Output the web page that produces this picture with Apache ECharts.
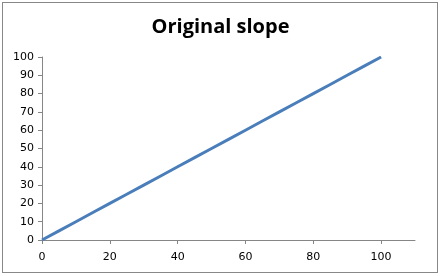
<!DOCTYPE html>
<html><head><meta charset="utf-8">
<script src="https://cdn.jsdelivr.net/npm/echarts@6/dist/echarts.min.js"></script>
<style>html,body{margin:0;padding:0;background:#fff}#c{width:441px;height:276px}
#frame{position:absolute;left:2px;top:2px;width:434px;height:269px;border:1px solid #888;pointer-events:none}</style>
</head><body><div id="c"></div><div id="frame"></div>
<script>
const titleText = "Original slope";
const xValues = [0, 5, 10, 15, 20, 25, 30, 35, 40, 45, 50, 55, 60, 65, 70, 75, 80, 85, 90, 95, 100];
const yValues = [0, 5, 10, 15, 20, 25, 30, 35, 40, 45, 50, 55, 60, 65, 70, 75, 80, 85, 90, 95, 100];
const xTicks = [0, 20, 40, 60, 80, 100];
const yTicks = [0, 10, 20, 30, 40, 50, 60, 70, 80, 90, 100];

const chart = echarts.init(document.getElementById('c'), null, {renderer: 'canvas'});
const axisColor = '#868686';
const lab = {color: '#000', fontFamily: 'DejaVu Sans', fontSize: 11};
chart.setOption({
  animation: false,
  title: {text: titleText, left: 'center', top: 12,
    textStyle: {fontFamily: 'Open Sans', fontWeight: 'bold', fontSize: 20, color: '#000'}},
  grid: {left: 42, right: 26, top: 57, bottom: 36},
  xAxis: {type: 'value', min: 0, max: 110, interval: 20,
    axisLine: {show: true, lineStyle: {color: axisColor}},
    axisTick: {show: true, length: 4, inside: false, lineStyle: {color: axisColor},
      customValues: xTicks},
    axisLabel: Object.assign({margin: 12, customValues: xTicks}, lab),
    splitLine: {show: false}},
  yAxis: {type: 'value', min: 0, max: 100, interval: 10,
    axisLine: {show: true, lineStyle: {color: axisColor}},
    axisTick: {show: true, length: 4, lineStyle: {color: axisColor}},
    axisLabel: Object.assign({margin: 8}, lab),
    splitLine: {show: false}},
  series: [{type: 'line', data: xValues.map((x, i) => [x, yValues[i]]),
    showSymbol: false, lineStyle: {color: '#4a7ebb', width: 3}}]
});
</script></body></html>
